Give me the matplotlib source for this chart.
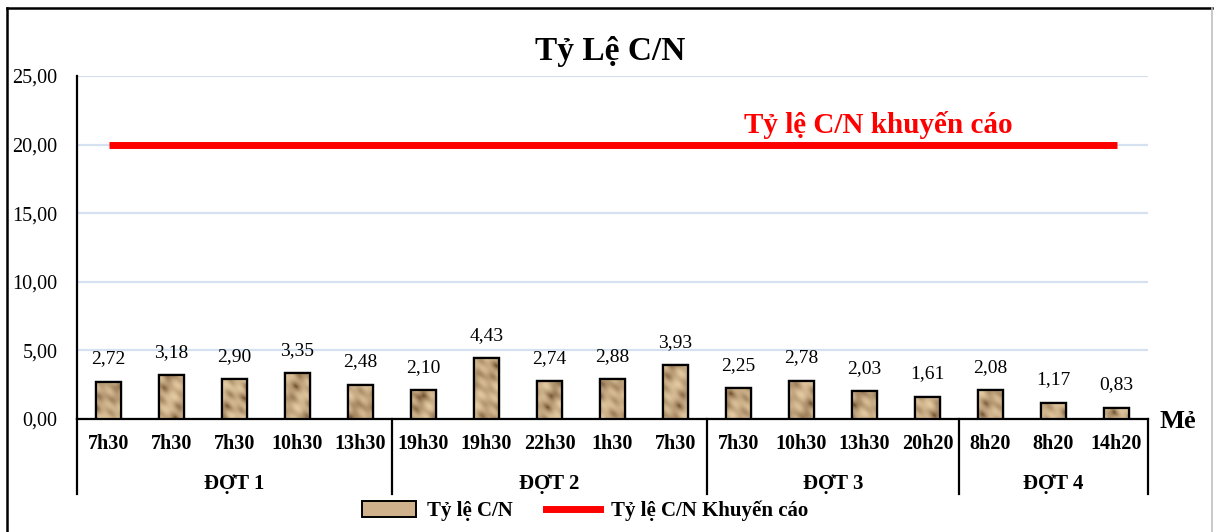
"""Tỷ lệ C/N theo mẻ: textured bars, recommended line and two-level category axis."""
import numpy as np
import matplotlib
matplotlib.use("Agg")
import matplotlib.pyplot as plt
import matplotlib.transforms as mtransforms
from matplotlib.lines import Line2D
from matplotlib.patches import Patch

times = ["7h30", "7h30", "7h30", "10h30", "13h30",
         "19h30", "19h30", "22h30", "1h30", "7h30",
         "7h30", "10h30", "13h30", "20h20",
         "8h20", "8h20", "14h20"]
values = [2.72, 3.18, 2.90, 3.35, 2.48,
          2.10, 4.43, 2.74, 2.88, 3.93,
          2.25, 2.78, 2.03, 1.61,
          2.08, 1.17, 0.83]
groups = ["ĐỢT 1", "ĐỢT 2", "ĐỢT 3", "ĐỢT 4"]
group_sizes = [5, 5, 4, 3]
recommended = 20.0
y_ticks = [0, 5, 10, 15, 20, 25]

plt.rcParams["font.family"] = ["Liberation Serif", "DejaVu Serif"]


def comma(v):
    return f"{v:.2f}".replace(".", ",")


def sand_texture(rows, cols, phase):
    # deterministic blotchy pattern imitating the sandy fill of the original bars
    yy, xx = np.mgrid[0:rows, 0:cols].astype(float)
    t = (np.sin(0.24 * xx + 0.18 * yy + phase) * np.cos(0.28 * yy - 0.1 * xx + 1.7 * phase)
         + 0.55 * np.sin(0.14 * (xx - yy) + 2.9 * phase)
         + 0.25 * np.sin(0.6 * xx + 0.45 * yy + phase))
    t = (t - t.min()) / (t.max() - t.min())
    t = t ** 0.5
    light = np.array([0.89, 0.79, 0.63])
    dark = np.array([0.45, 0.32, 0.19])
    return dark + (light - dark) * t[..., None]


fig = plt.figure(figsize=(12.16, 5.32), dpi=100)
ax = fig.add_axes([77 / 1216, 1 - 419 / 532, (1148 - 77) / 1216, (419 - 76) / 532])

x = np.arange(len(values))
bar_w = 0.41
bars = ax.bar(x, values, width=bar_w, color="#C9A97F", edgecolor="black",
              linewidth=1.6, zorder=3)
for i, (b, v) in enumerate(zip(bars, values)):
    img = sand_texture(max(int(v * 14), 4), 26, phase=i * 0.9)
    im = ax.imshow(img, extent=(x[i] - bar_w / 2, x[i] + bar_w / 2, 0, v),
                   aspect="auto", origin="lower", zorder=3.5, interpolation="bilinear")
    im.set_clip_path(b)
    ax.add_patch(plt.Rectangle((x[i] - bar_w / 2, 0), bar_w, v, fill=False,
                               edgecolor="black", linewidth=1.6, zorder=4))
    ax.annotate(comma(v), (x[i], v), xytext=(0, 16.5), textcoords="offset points",
                ha="center", va="center", fontsize=14, zorder=5)

ax.plot([x[0], x[-1]], [recommended, recommended], color="#FF0000", linewidth=5.0,
        solid_capstyle="butt", zorder=4)
ax.text(12.22, 20.85, "Tỷ lệ C/N khuyến cáo", color="#FF0000", fontsize=21,
        fontweight="bold", ha="center", va="baseline")

ax.set_xlim(-0.5, len(values) - 0.5)
ax.set_ylim(0, 25)
ax.set_yticks(y_ticks)
ax.set_yticklabels([comma(t) for t in y_ticks], fontsize=14.5)
ax.tick_params(axis="y", length=0, pad=14)
ax.set_xticks([])
ax.grid(axis="y", color="#D5E1F1", linewidth=1.6, zorder=0)
ax.set_axisbelow(True)
for s in ["top", "right"]:
    ax.spines[s].set_visible(False)
ax.spines["left"].set_linewidth(1.6)
ax.spines["bottom"].set_linewidth(1.6)

# two-level category axis
trans = mtransforms.blended_transform_factory(ax.transData, ax.transAxes)
for i, t in enumerate(times):
    ax.text(x[i], -0.0875, t, transform=trans, ha="center", va="baseline",
            fontsize=14.5, fontweight="bold")
start = 0
bounds = [-0.5]
for g, n in zip(groups, group_sizes):
    mid = start + (n - 1) / 2
    ax.text(mid, -0.204, g, transform=trans, ha="center", va="baseline",
            fontsize=15, fontweight="bold")
    start += n
    bounds.append(start - 0.5)
for bx in bounds:
    ax.add_line(Line2D([bx, bx], [0, -0.2187], transform=trans, color="black",
                       linewidth=1.6, clip_on=False))

fig.text(1178 / 1216, 1 - 428 / 532, "Mẻ", ha="center", va="baseline",
         fontsize=19, fontweight="bold")
fig.text(610 / 1216, 1 - 60 / 532, "Tỷ Lệ C/N", ha="center", va="baseline",
         fontsize=24, fontweight="bold")

handles = [Patch(facecolor="#CFB28B", edgecolor="black", linewidth=1.4),
           Line2D([], [], color="#FF0000", linewidth=5.0)]
fig.legend(handles, ["Tỷ lệ C/N", "Tỷ lệ C/N Khuyến cáo"], loc="center",
           bbox_to_anchor=(585 / 1216, 1 - 511 / 532), ncol=2, frameon=False,
           prop={"size": 15, "weight": "bold"}, handlelength=2.6, handleheight=0.8,
           columnspacing=1.6, handletextpad=0.5)

# chart frame
fig.add_artist(Line2D([7 / 1216, 7 / 1216], [0, 1 - 8 / 532], transform=fig.transFigure,
                      color="black", linewidth=1.8))
fig.add_artist(Line2D([7 / 1216, 1212 / 1216], [1 - 8 / 532, 1 - 8 / 532],
                      transform=fig.transFigure, color="black", linewidth=1.8))
fig.add_artist(Line2D([1212 / 1216, 1212 / 1216], [0, 1 - 8 / 532], transform=fig.transFigure,
                      color="#BFBFBF", linewidth=1.2))

fig.savefig("out.png", dpi=100)
